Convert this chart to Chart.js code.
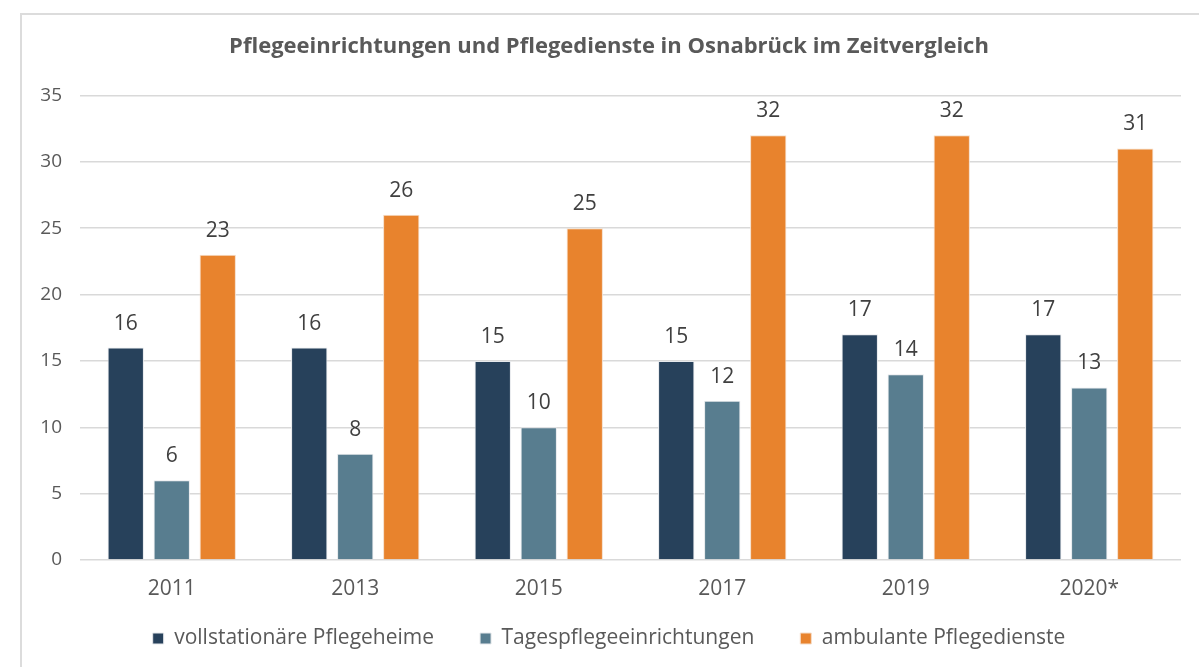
<!DOCTYPE html>
<html>
<head>
<meta charset="utf-8">
<script src="https://cdn.jsdelivr.net/npm/chart.js@4"></script>
<style>
  html, body { margin: 0; padding: 0; background: #fff; }
  body { width: 1199px; height: 667px; overflow: hidden; position: relative; }
  #box {
    position: absolute; left: 20px; top: 13px; width: 1200px; height: 660px;
    border-top: 2px solid #dcdcdc; border-left: 2px solid #dcdcdc;
  }
  #wrap { position: absolute; left: 0; top: 15px; width: 1199px; height: 652px; }
</style>
</head>
<body>
<div id="box"></div>
<div id="wrap"><canvas id="chart"></canvas></div>
<script>
const years = ['2011', '2013', '2015', '2017', '2019', '2020*'];
const vollstationaer = [16, 16, 15, 15, 17, 17];
const tagespflege = [6, 8, 10, 12, 14, 13];
const ambulant = [23, 26, 25, 32, 32, 31];

const FONT = "'Open Sans', 'Noto Sans', sans-serif";

// Werte über die Balken schreiben
const valueLabels = {
  id: 'valueLabels',
  afterDatasetsDraw(chart) {
    const c = chart.ctx;
    c.save();
    c.font = '21px ' + FONT;
    c.fillStyle = '#404040';
    c.textAlign = 'center';
    c.textBaseline = 'alphabetic';
    chart.data.datasets.forEach((ds, i) => {
      chart.getDatasetMeta(i).data.forEach((bar, j) => {
        c.fillText(ds.data[j], bar.x, bar.y - 18);
      });
    });
    c.restore();
  }
};

// Jahreszahlen unter der Achse (x-Achse ist flach, damit die Legende passt)
const yearLabels = {
  id: 'yearLabels',
  afterDraw(chart) {
    const c = chart.ctx;
    const x = chart.scales.x;
    c.save();
    c.font = '21px ' + FONT;
    c.fillStyle = '#595959';
    c.textAlign = 'center';
    c.textBaseline = 'middle';
    chart.data.labels.forEach((lbl, i) => {
      c.fillText(lbl, x.getPixelForTick(i), x.top + 29);
    });
    c.restore();
  }
};

const ctx = document.getElementById('chart');
new Chart(ctx, {
  type: 'bar',
  data: {
    labels: years,
    datasets: [{
      label: 'vollstationäre Pflegeheime',
      data: vollstationaer,
      backgroundColor: '#27415b',
      borderColor: '#e6e9ec',
      borderWidth: 1,
    }, {
      label: 'Tagespflegeeinrichtungen',
      data: tagespflege,
      backgroundColor: '#587d8f',
      borderColor: '#e6e9ec',
      borderWidth: 1,
    }, {
      label: 'ambulante Pflegedienste',
      data: ambulant,
      backgroundColor: '#e8832d',
      borderColor: '#f5ddc8',
      borderWidth: 1,
    }]
  },
  options: {
    responsive: true,
    maintainAspectRatio: false,
    animation: false,
    categoryPercentage: 0.752,
    barPercentage: 0.79,
    layout: { padding: { top: 0, right: 18, bottom: 8, left: 37 } },
    plugins: {
      title: {
        display: true,
        text: 'Pflegeeinrichtungen und Pflegedienste in Osnabrück im Zeitvergleich',
        color: '#595959',
        font: { family: FONT, size: 22, weight: 'bold' },
        padding: { top: 19, bottom: 35 },
      },
      legend: {
        position: 'bottom',
        labels: {
          color: '#595959',
          font: { family: FONT, size: 21 },
          boxWidth: 11,
          boxHeight: 11,
          padding: 46,
        }
      },
      tooltip: { enabled: false },
    },
    scales: {
      y: {
        min: 0,
        max: 35,
        ticks: {
          stepSize: 5,
          color: '#595959',
          font: { family: FONT, size: 19 },
          padding: 18,
        },
        grid: { color: '#d9d9d9', lineWidth: 1.5, drawTicks: false },
        border: { display: false },
        afterFit(scale) { scale.width = 43; },
      },
      x: {
        ticks: { display: false },
        grid: { display: false, drawTicks: false },
        border: { display: false },
        afterFit(scale) { scale.height = 22; },
      }
    }
  },
  plugins: [valueLabels, yearLabels]
});
</script>
</body>
</html>
